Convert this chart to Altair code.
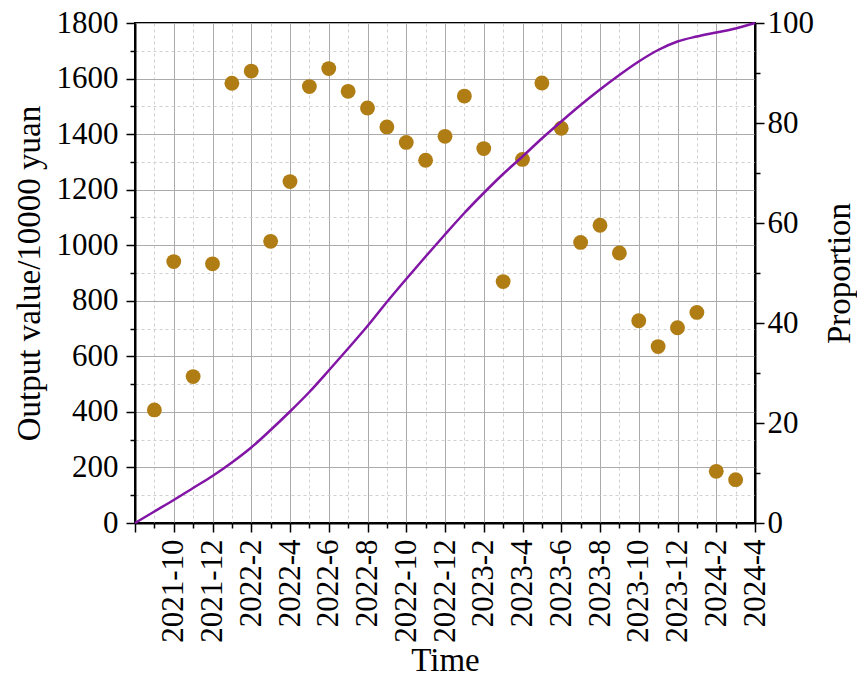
import altair as alt
import pandas as pd

# ---- data ----
point_months = ["2021-9", "2021-10", "2021-11", "2021-12", "2022-1", "2022-2", "2022-3",
                "2022-4", "2022-5", "2022-6", "2022-7", "2022-8", "2022-9", "2022-10",
                "2022-11", "2022-12", "2023-1", "2023-2", "2023-3", "2023-4", "2023-5",
                "2023-6", "2023-7", "2023-8", "2023-9", "2023-10", "2023-11", "2023-12",
                "2024-1", "2024-2", "2024-3"]
output_values = [407, 941, 527, 933, 1583, 1627, 1014, 1229, 1571, 1636, 1554, 1494,
                 1426, 1370, 1306, 1392, 1537, 1348, 869, 1309, 1584, 1421, 1010, 1072,
                 972, 728, 635, 703, 758, 186, 156]

line_months = ["2021-8"] + point_months + ["2024-4"]
proportion = [0, 2.3, 4.6, 7.0, 9.4, 12.1, 15.1, 18.6, 22.3, 26.2, 30.5, 34.9, 39.4,
              44.2, 48.8, 53.3, 57.7, 62.0, 66.0, 69.8, 73.3, 76.9, 80.3, 83.6, 86.7,
              89.6, 92.3, 94.6, 96.3, 97.3, 98.1, 98.9, 100]

x_tick_values = list(range(0, 33))          # months since 2021-8
left_tick_values = list(range(0, 1801, 100))
right_tick_values = list(range(0, 101, 10))


def month_index(s):
    y, m = s.split("-")
    return (int(y) - 2021) * 12 + int(m) - 8


pts = pd.DataFrame({"t": [month_index(s) for s in point_months],
                    "Time": point_months, "value": output_values})
ln = pd.DataFrame({"t": [month_index(s) for s in line_months],
                   "Time": line_months, "prop": proportion})

FONT = "Liberation Serif"
LBL = 31
TTL = 33
MAJOR_GRID = "#ababab"
MINOR_GRID = "#d0d0d0"

x_label_expr = ("datum.value % 2 == 0 && datum.value > 0 ? "
                "(2021 + floor((datum.value + 7) / 12)) + '-' + (((datum.value + 7) % 12) + 1) : ''")

x_enc = alt.X(
    "t:Q",
    scale=alt.Scale(domain=[0, 32], nice=False, zero=False),
    axis=alt.Axis(
        title="Time", values=x_tick_values, tickCount=100, labelExpr=x_label_expr,
        labelAngle=270, labelOverlap=False, labelFlush=False, labelPadding=7,
        labelFont=FONT, labelFontSize=LBL, labelColor="black",
        titleFont=FONT, titleFontSize=TTL, titleFontWeight="normal", titleColor="black",
        titlePadding=2,
        grid=True,
        gridColor={"condition": {"test": "datum.value % 2 == 1", "value": MINOR_GRID}, "value": MAJOR_GRID},
        gridDash={"condition": {"test": "datum.value % 2 == 1", "value": [3, 3]}, "value": []},
        tickSize={"condition": {"test": "datum.value % 2 == 1", "value": 5}, "value": 9},
        tickColor="black", tickWidth=1.5, domainColor="black", domainWidth=2,
    ),
)

points = alt.Chart(pts).mark_circle(size=220, color="#b07d14", opacity=1).encode(
    x=x_enc,
    y=alt.Y(
        "value:Q",
        scale=alt.Scale(domain=[0, 1800], nice=False),
        axis=alt.Axis(
            title="Output value/10000 yuan", values=left_tick_values, tickCount=100, format="d",
            labelExpr="datum.value % 200 == 0 ? datum.label : ''",
            labelFont=FONT, labelFontSize=LBL, labelColor="black", labelPadding=8,
            titleFont=FONT, titleFontSize=TTL, titleFontWeight="normal", titleColor="black",
            titlePadding=10,
            grid=True,
            gridColor={"condition": {"test": "datum.value % 200 != 0", "value": MINOR_GRID}, "value": MAJOR_GRID},
            gridDash={"condition": {"test": "datum.value % 200 != 0", "value": [3, 3]}, "value": []},
            tickSize={"condition": {"test": "datum.value % 200 != 0", "value": 5}, "value": 9},
            tickColor="black", tickWidth=1.5, domainColor="black", domainWidth=2,
            labelOverlap=False,
        ),
    ),
    tooltip=["Time", "value"],
)

line = alt.Chart(ln).mark_line(color="#8215a6", strokeWidth=2.5, interpolate="monotone").encode(
    x=alt.X("t:Q"),
    y=alt.Y(
        "prop:Q",
        scale=alt.Scale(domain=[0, 100], nice=False),
        axis=alt.Axis(
            title="Proportion", orient="right", values=right_tick_values, tickCount=100, format="d",
            labelExpr="datum.value % 20 == 0 ? datum.label : ''",
            labelFont=FONT, labelFontSize=LBL, labelColor="black", labelPadding=3,
            titleFont=FONT, titleFontSize=TTL, titleFontWeight="normal", titleColor="black",
            titleAngle=270, titlePadding=43,
            grid=False,
            tickSize={"condition": {"test": "datum.value % 20 != 0", "value": 5}, "value": 9},
            tickColor="black", tickWidth=1.5, domainColor="black", domainWidth=2,
            labelOverlap=False,
        ),
    ),
)

chart = (
    alt.layer(points, line)
    .resolve_scale(y="independent")
    .properties(
        width=620, height=500,
        autosize=alt.AutoSizeParams(type="none"),
        padding={"left": 135, "top": 23, "right": 102, "bottom": 159},
        background="white",
    )
    .configure_view(stroke="black", strokeWidth=2)
)

chart.save("out.html", embed_options={"renderer": "svg", "actions": False})
